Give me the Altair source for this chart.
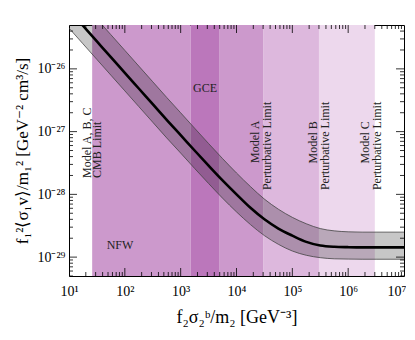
import json
import altair as alt
import pandas as pd

# ---- data ----
x_vals = [1.0e1, 1.778e1, 3.162e1, 5.623e1, 1.0e2, 1.778e2, 3.162e2, 5.623e2,
          1.0e3, 1.778e3, 3.162e3, 5.623e3, 1.0e4, 1.778e4, 3.162e4, 5.623e4,
          1.0e5, 1.778e5, 3.162e5, 5.623e5, 1.0e6, 1.778e6, 3.162e6, 5.623e6, 1.0e7]
y_center = [8.65e-26, 4.864e-26, 2.735e-26, 1.538e-26, 8.65e-27, 4.864e-27, 2.735e-27, 1.538e-27,
            8.79e-28, 5.0e-28, 2.87e-28, 1.67e-28, 1.0e-28, 6.1e-29, 4.0e-29, 2.85e-29,
            2.2e-29, 1.75e-29, 1.53e-29, 1.46e-29, 1.44e-29, 1.43e-29, 1.43e-29, 1.43e-29, 1.43e-29]
y_upper = [1.97e-25, 1.108e-25, 6.23e-26, 3.503e-26, 1.97e-26, 1.108e-26, 6.23e-27, 3.503e-27,
           1.995e-27, 1.133e-27, 6.45e-28, 3.72e-28, 2.19e-28, 1.33e-28, 8.4e-29, 5.8e-29,
           4.3e-29, 3.4e-29, 2.85e-29, 2.62e-29, 2.53e-29, 2.5e-29, 2.5e-29, 2.5e-29, 2.5e-29]
y_lower = [4.46e-26, 2.508e-26, 1.410e-26, 7.93e-27, 4.46e-27, 2.508e-27, 1.410e-27, 7.93e-28,
           4.55e-28, 2.59e-28, 1.49e-28, 8.7e-29, 5.25e-29, 3.3e-29, 2.2e-29, 1.6e-29,
           1.25e-29, 1.07e-29, 9.8e-30, 9.4e-30, 9.3e-30, 9.25e-30, 9.25e-30, 9.25e-30, 9.25e-30]

band_names = ["NFW", "GCE", "Model A", "Model B", "Model C"]
band_x1 = [26, 1.5e3, 5e3, 3e4, 3e5]
band_x2 = [1.5e3, 5e3, 3e4, 3e5, 3e6]
band_colors = ["#cc99cc", "#bb77bb", "#cc99cc", "#ddb8dd", "#edd8ed"]

label_texts = ["Model A, B, C", "CMB Limit", "Model A", "Perturbative Limit",
               "Model B", "Perturbative Limit", "Model C", "Perturbative Limit"]
label_x = [20.8, 31.3, 2.15e4, 3.49e4, 2.39e5, 3.87e5, 2.02e6, 3.27e6]
label_y = [1.83e-28, 1.83e-28, 3.17e-28, 1.17e-28, 3.1e-28, 1.17e-28, 3.1e-28, 1.17e-28]

flat_texts = ["GCE", "NFW"]
flat_x = [2.73e3, 82]
flat_y = [4.98e-27, 1.55e-29]

x_major = [1e1, 1e2, 1e3, 1e4, 1e5, 1e6, 1e7]
x_tick_labels = ["10¹", "10²", "10³", "10⁴", "10⁵", "10⁶", "10⁷"]
y_major = [1e-29, 1e-28, 1e-27, 1e-26]
y_tick_labels = ["10⁻²⁹", "10⁻²⁸", "10⁻²⁷", "10⁻²⁶"]

x_minor = [m * 10 ** d for d in range(1, 7) for m in range(2, 10)]
y_minor = [m * 10.0 ** d for d in range(-30, -25) for m in range(2, 10)
           if 5e-30 < m * 10.0 ** d < 5e-26]

W, H = 335, 251
FONT = "Liberation Serif"
XT = "f₂σ₂ᵇ/m₂ [GeV⁻³]"
YT = "f₁²⟨σ₁v⟩/m₁² [GeV⁻² cm³/s]"

xscale = alt.Scale(type="log", domain=[1e1, 1e7], nice=False)
yscale = alt.Scale(type="log", domain=[5e-30, 5e-26], nice=False)

x_label_expr = json.dumps(x_tick_labels, ensure_ascii=False) + "[round(log(datum.value)/LN10) - 1]"
y_label_expr = json.dumps(y_tick_labels, ensure_ascii=False) + "[round(log(datum.value)/LN10) + 29]"

xaxis = alt.Axis(values=x_major, labelExpr=x_label_expr, ticks=False, domain=False, grid=False,
                 labelFont=FONT, labelFontSize=14, labelPadding=8, labelColor="black",
                 labelFlush=False, labelOverlap=False,
                 labelAlign={"condition": {"test": "datum.value > 5e6", "value": "right"}, "value": "center"},
                 labelOffset={"condition": {"test": "datum.value > 5e6", "value": 2}, "value": 0},
                 titleFont=FONT, titleFontSize=18, titleFontWeight="normal", titleColor="black",
                 titlePadding=10)
yaxis = alt.Axis(values=y_major, labelExpr=y_label_expr, ticks=False, domain=False, grid=False,
                 labelFont=FONT, labelFontSize=14, labelPadding=4, labelColor="black",
                 labelFlush=False, labelOverlap=False,
                 titleFont=FONT, titleFontSize=17, titleFontWeight="normal", titleColor="black",
                 titlePadding=5)

curve = pd.DataFrame({"x": x_vals, "c": y_center, "u": y_upper, "l": y_lower})
bands = pd.DataFrame({"name": band_names, "x1": band_x1, "x2": band_x2, "col": band_colors})
labels = pd.DataFrame({"t": label_texts, "x": label_x, "y": label_y})
flats = pd.DataFrame({"t": flat_texts, "x": flat_x, "y": flat_y})

band_layer = alt.Chart(bands).mark_rect(clip=True).encode(
    x=alt.X("x1:Q", scale=xscale, axis=xaxis, title=XT),
    x2="x2:Q",
    color=alt.Color("col:N", scale=None, legend=None),
)

area = alt.Chart(curve).mark_area(color="black", opacity=0.22, clip=True, interpolate="monotone").encode(
    x=alt.X("x:Q", scale=xscale, title=XT),
    y=alt.Y("l:Q", scale=yscale, axis=yaxis, title=YT),
    y2="u:Q",
)
upper = alt.Chart(curve).mark_line(color="#444444", strokeWidth=0.8, clip=True, interpolate="monotone").encode(
    x=alt.X("x:Q", scale=xscale, title=XT), y=alt.Y("u:Q", scale=yscale, title=YT))
lower = alt.Chart(curve).mark_line(color="#444444", strokeWidth=0.8, clip=True, interpolate="monotone").encode(
    x=alt.X("x:Q", scale=xscale, title=XT), y=alt.Y("l:Q", scale=yscale, title=YT))
center = alt.Chart(curve).mark_line(color="black", strokeWidth=2.6, clip=True, interpolate="monotone").encode(
    x=alt.X("x:Q", scale=xscale, title=XT), y=alt.Y("c:Q", scale=yscale, title=YT))

rot_text = alt.Chart(labels).mark_text(angle=270, align="left", baseline="middle",
                                       font=FONT, fontSize=12, color="#222222").encode(
    x=alt.X("x:Q", scale=xscale, title=XT), y=alt.Y("y:Q", scale=yscale, title=YT), text="t:N")
flat_text = alt.Chart(flats).mark_text(align="center", baseline="middle",
                                       font=FONT, fontSize=12, color="#222222").encode(
    x=alt.X("x:Q", scale=xscale, title=XT), y=alt.Y("y:Q", scale=yscale, title=YT), text="t:N")


def xticks(vals, length):
    df = pd.DataFrame({"v": vals})
    base = alt.Chart(df).mark_rule(color="black", strokeWidth=0.8)
    bottom = base.encode(x=alt.X("v:Q", scale=xscale, title=XT), y=alt.value(H), y2=alt.value(H - length))
    top = base.encode(x=alt.X("v:Q", scale=xscale, title=XT), y=alt.value(0), y2=alt.value(length))
    return [bottom, top]


def yticks(vals, length):
    df = pd.DataFrame({"v": vals})
    base = alt.Chart(df).mark_rule(color="black", strokeWidth=0.8)
    left = base.encode(y=alt.Y("v:Q", scale=yscale, title=YT), x=alt.value(0), x2=alt.value(length))
    right = base.encode(y=alt.Y("v:Q", scale=yscale, title=YT), x=alt.value(W), x2=alt.value(W - length))
    return [left, right]


tick_layers = xticks(x_major[1:-1], 8) + xticks(x_minor, 4) + yticks(y_major, 8) + yticks(y_minor, 4)

chart = alt.layer(
    band_layer, area, upper, lower, center, rot_text, flat_text, *tick_layers
).properties(
    width=W, height=H,
    autosize=alt.AutoSizeParams(type="none"),
    padding={"left": 61, "top": 17, "right": 2, "bottom": 54},
).configure_view(stroke="black", strokeWidth=1)

chart.save("out.html", embed_options={"renderer": "svg", "actions": False})
